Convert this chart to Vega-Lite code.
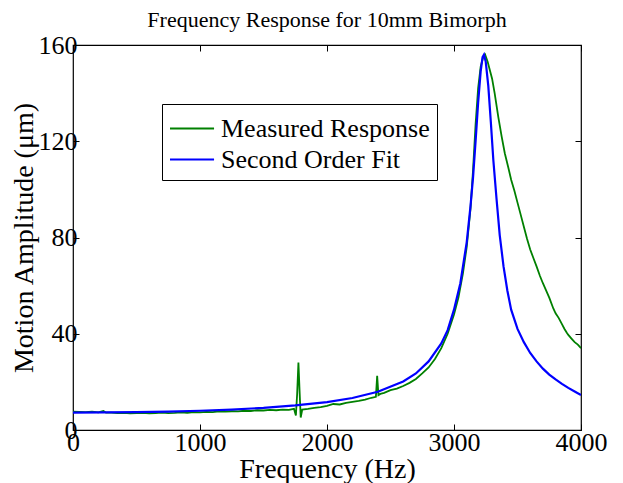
{
  "$schema": "https://vega.github.io/schema/vega-lite/v6.json",
  "autosize": "none",
  "width": 508,
  "height": 385,
  "padding": {"left": 73, "top": 45, "right": 42, "bottom": 53},
  "background": "white",
  "config": {
    "font": "Liberation Serif",
    "view": {"stroke": "black", "strokeWidth": 1.2},
    "axis": {"grid": false, "domain": false, "tickColor": "black", "tickSize": -6, "tickWidth": 1, "labelFont": "Liberation Serif", "labelFontSize": 26, "labelColor": "black", "titleFont": "Liberation Serif", "titleFontSize": 28, "titleFontWeight": "normal", "titleColor": "black"},
    "legend": {"labelFont": "Liberation Serif", "labelFontSize": 26, "labelColor": "black", "labelLimit": 0}
  },
  "title": {"text": "Frequency Response for 10mm Bimorph", "font": "Liberation Serif", "fontSize": 22, "fontWeight": "normal", "color": "black", "offset": 0},
  "datasets": {
    "measured": [
      {"f":0,"v":7.6},{"f":50,"v":7.5},{"f":100,"v":7.4},{"f":150,"v":7.6},{"f":200,"v":7.3},{"f":240,"v":7.9},{"f":260,"v":7.2},{"f":300,"v":7.2},{"f":350,"v":7.0},{"f":400,"v":7.1},{"f":450,"v":6.9},{"f":500,"v":7.0},{"f":550,"v":7.1},{"f":600,"v":6.9},{"f":650,"v":7.0},{"f":700,"v":7.2},{"f":750,"v":7.0},{"f":800,"v":7.1},{"f":850,"v":7.3},{"f":900,"v":7.1},{"f":950,"v":7.4},{"f":1000,"v":7.3},{"f":1050,"v":7.5},{"f":1100,"v":7.4},{"f":1150,"v":7.7},{"f":1200,"v":7.6},{"f":1250,"v":7.8},{"f":1300,"v":7.7},{"f":1350,"v":8.0},{"f":1400,"v":7.9},{"f":1450,"v":8.2},{"f":1500,"v":8.1},{"f":1550,"v":8.4},{"f":1600,"v":8.2},{"f":1650,"v":8.5},{"f":1700,"v":8.4},{"f":1740,"v":8.8},{"f":1755,"v":6.0},{"f":1765,"v":15},{"f":1775,"v":28},{"f":1785,"v":15},{"f":1793,"v":5.2},{"f":1805,"v":8.5},{"f":1850,"v":8.8},{"f":1900,"v":9.2},{"f":1950,"v":9.5},{"f":2000,"v":10.0},{"f":2050,"v":10.8},{"f":2100,"v":10.6},{"f":2150,"v":11.3},{"f":2200,"v":11.7},{"f":2250,"v":12.1},{"f":2300,"v":12.6},{"f":2350,"v":13.4},{"f":2385,"v":13.8},{"f":2395,"v":22.5},{"f":2405,"v":14.5},{"f":2420,"v":15.0},{"f":2450,"v":15.4},{"f":2500,"v":16.6},{"f":2550,"v":17.2},{"f":2600,"v":18.3},{"f":2650,"v":19.6},{"f":2700,"v":21.2},{"f":2750,"v":23.5},{"f":2800,"v":26.0},{"f":2850,"v":29.5},{"f":2900,"v":34},{"f":2950,"v":40},{"f":3000,"v":48},{"f":3035,"v":55},{"f":3070,"v":65},{"f":3100,"v":76},{"f":3130,"v":92},{"f":3150,"v":108},{"f":3170,"v":127},{"f":3190,"v":142},{"f":3210,"v":151},{"f":3230,"v":155},{"f":3245,"v":156},{"f":3265,"v":153},{"f":3285,"v":149},{"f":3300,"v":146},{"f":3320,"v":140},{"f":3349,"v":130},{"f":3375,"v":122},{"f":3400,"v":115},{"f":3428,"v":109},{"f":3450,"v":104},{"f":3475,"v":99.5},{"f":3500,"v":94.5},{"f":3525,"v":89.5},{"f":3550,"v":84.5},{"f":3575,"v":79.5},{"f":3600,"v":75},{"f":3625,"v":71.5},{"f":3650,"v":68},{"f":3677,"v":64},{"f":3700,"v":61},{"f":3725,"v":58},{"f":3750,"v":55},{"f":3782,"v":50.5},{"f":3800,"v":48.5},{"f":3825,"v":46.5},{"f":3850,"v":44},{"f":3870,"v":42},{"f":3887,"v":40.5},{"f":3900,"v":39.5},{"f":3925,"v":38},{"f":3950,"v":36.5},{"f":3975,"v":35.5},{"f":4000,"v":34}
    ],
    "fit": [
      {"f":0,"v":7.2},{"f":250,"v":7.3},{"f":500,"v":7.4},{"f":750,"v":7.6},{"f":1000,"v":8.0},{"f":1250,"v":8.5},{"f":1500,"v":9.2},{"f":1750,"v":10.2},{"f":2000,"v":11.6},{"f":2200,"v":13.3},{"f":2400,"v":15.9},{"f":2600,"v":20.2},{"f":2700,"v":23.5},{"f":2800,"v":28.5},{"f":2900,"v":36},{"f":2950,"v":41.5},{"f":3000,"v":50},{"f":3050,"v":61},{"f":3100,"v":78},{"f":3130,"v":93},{"f":3150,"v":105},{"f":3170,"v":120},{"f":3190,"v":136},{"f":3210,"v":149},{"f":3225,"v":155},{"f":3236,"v":156},{"f":3250,"v":153},{"f":3270,"v":143},{"f":3290,"v":128},{"f":3310,"v":112},{"f":3335,"v":96},{"f":3360,"v":81},{"f":3390,"v":68},{"f":3420,"v":58},{"f":3450,"v":50},{"f":3500,"v":42},{"f":3550,"v":36.5},{"f":3600,"v":32},{"f":3650,"v":28.5},{"f":3700,"v":25.5},{"f":3750,"v":23},{"f":3800,"v":21},{"f":3850,"v":19.2},{"f":3900,"v":17.5},{"f":3950,"v":16},{"f":4000,"v":14.5}
    ]
  },
  "layer": [
    {
      "data": {"name": "measured"},
      "transform": [{"calculate": "'Measured Response'", "as": "series"}],
      "mark": {"type": "line", "strokeWidth": 1.8, "clip": true},
      "encoding": {
        "x": {"field": "f", "type": "quantitative", "scale": {"domain": [0, 4000], "nice": false, "zero": false}, "axis": {"orient": "bottom", "values": [0, 1000, 2000, 3000, 4000], "format": "d", "labelPadding": 5, "title": "Frequency (Hz)", "titlePadding": 0, "labelFlush": false}},
        "y": {"field": "v", "type": "quantitative", "scale": {"domain": [0, 160], "nice": false}, "axis": {"orient": "left", "values": [0, 40, 80, 120, 160], "labelPadding": 2, "title": "Motion Amplitude (μm)", "titlePadding": 0, "labelFlush": false}},
        "color": {"field": "series", "type": "nominal", "scale": {"domain": ["Measured Response", "Second Order Fit"], "range": ["#008000", "#0000ff"]},
          "legend": {"title": null, "orient": "none", "legendX": 89, "legendY": 59, "strokeColor": "black", "fillColor": "white", "padding": 7, "symbolType": "M-1,0H1.67", "symbolSize": 1089, "symbolStrokeWidth": 2, "labelOffset": 17, "rowPadding": 0, "cornerRadius": 0}}
      }
    },
    {
      "data": {"name": "fit"},
      "transform": [{"calculate": "'Second Order Fit'", "as": "series"}],
      "mark": {"type": "line", "strokeWidth": 2.2, "clip": true},
      "encoding": {
        "x": {"field": "f", "type": "quantitative", "axis": {"orient": "top", "values": [0, 1000, 2000, 3000, 4000], "labels": false, "title": null}},
        "y": {"field": "v", "type": "quantitative", "axis": {"orient": "right", "values": [0, 40, 80, 120, 160], "labels": false, "title": null}},
        "color": {"field": "series", "type": "nominal"}
      }
    }
  ],
  "resolve": {"axis": {"x": "independent", "y": "independent"}}
}
